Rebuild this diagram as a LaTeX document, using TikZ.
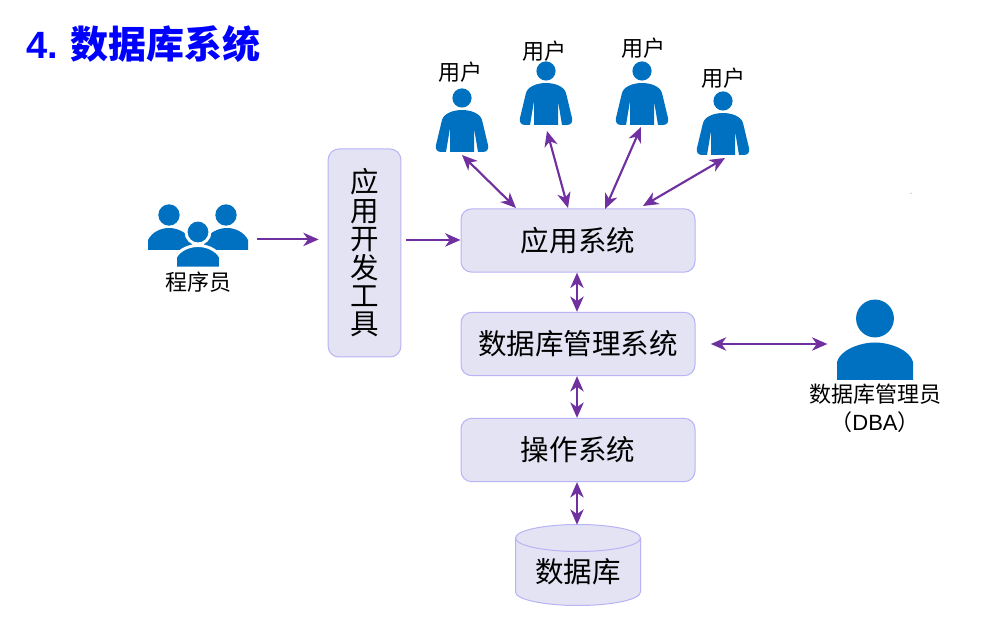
\documentclass[tikz,border=0pt]{standalone}
\usepackage{fontspec}
\setmainfont{Noto Sans CJK SC}
\newfontfamily\latinfont{Liberation Sans}
\usetikzlibrary{arrows.meta}
\definecolor{iconblue}{HTML}{0070C0}
\definecolor{arrowpurple}{HTML}{7030A0}
\definecolor{boxfill}{HTML}{E4E3F3}
\definecolor{boxline}{HTML}{B8B3F5}
\tikzset{
	sysbox/.style={draw=boxline,fill=boxfill,line width=0.75pt,rounded corners=8pt,inner sep=0pt,minimum width=175.5pt,minimum height=47.5pt,font=\fontsize{21.4pt}{24pt}\selectfont},
	iconbox/.style={inner sep=0pt,minimum width=39pt,minimum height=40pt},
	iconlabel/.style={inner sep=0pt,font=\fontsize{16.5pt}{21pt}\selectfont,align=center},
	link/.style={draw=arrowpurple,line width=1.6pt,-{Stealth[length=11.5pt,width=10pt,inset=3.5pt]}},
	twolink/.style={draw=arrowpurple,line width=1.6pt,{Stealth[length=11.5pt,width=10pt,inset=3.5pt]}-{Stealth[length=11.5pt,width=10pt,inset=3.5pt]}}
}
\newcommand{\drawuser}[2]{
	\fill[iconblue] (#1,#2) circle (7.2pt);
	\fill[iconblue] (#1-12,#2+54)--(#1-12,#2+30)--(#1-16,#2+54)--(#1-21,#2+54)
		..controls (#1-25,#2+54) and (#1-27,#2+51) .. (#1-26,#2+47)--(#1-20,#2+22)
		..controls (#1-18,#2+15) and (#1-8,#2+12) .. (#1,#2+12) ..controls (#1+8,#2+12) and (#1+18,#2+15) .. (#1+20,#2+22)
		--(#1+26,#2+47) ..controls (#1+27,#2+51) and (#1+25,#2+54) .. (#1+21,#2+54)
		--(#1+16,#2+54)--(#1+12,#2+30)--(#1+12,#2+54)--cycle;
}
\begin{document}
\begin{tikzpicture}[x=0.75pt,y=-0.75pt]
	\useasboundingbox (0,0) rectangle (1001,641);
	\node[anchor=west,inner sep=0pt,text=blue,font=\fontsize{28.5pt}{32pt}\selectfont\bfseries] (title) at (26,44) {{\latinfont 4.}\hspace{9.5pt}数据库系统};

	% main boxes
	\node[sysbox,minimum width=54.5pt,minimum height=156pt,align=center,font=\fontsize{21.4pt}{21.3pt}\selectfont] (tool) at (364.5,253) {应\\用\\开\\发\\工\\具};
	\node[sysbox] (app) at (578,240.5) {应用系统};
	\node[sysbox] (dbms) at (578,344) {数据库管理系统};
	\node[sysbox] (os) at (578,450) {操作系统};

	% database
	\filldraw[draw=boxline,fill=boxfill,line width=0.75pt] (515.5,538)--(515.5,592) arc[start angle=180,end angle=360,x radius=62.5,y radius=-13.5]--(640.5,538) arc[start angle=0,end angle=180,x radius=62.5,y radius=-13.5]--cycle;
	\draw[boxline,line width=0.75pt] (515.5,538) arc[start angle=180,end angle=360,x radius=62.5,y radius=-13.5];
	\node[inner sep=0pt,minimum width=93.75pt,minimum height=60pt] (db) at (578,565) {};
	\node[inner sep=0pt,font=\fontsize{21.4pt}{24pt}\selectfont] (db label) at (578,572) {数据库};

	% users
	\foreach \name/\ux/\uy/\lx/\ly in {userA/462/98/460/72,userB/546/71/544/51,userC/642/71/643/48,userD/723/101/723/78}{
		\drawuser{\ux}{\uy}
		\node[iconbox] (\name) at (\ux,\uy+22) {};
		\node[iconlabel] (\name label) at (\lx,\ly) {用户};
	}
	\coordinate (userA end) at (462,155);
	\coordinate (userB end) at (547,131);
	\coordinate (userC end) at (641,127);
	\coordinate (userD end) at (725,158);
	\coordinate (appA) at (516,208);
	\coordinate (appB) at (568,208);
	\coordinate (appC) at (605,209);
	\coordinate (appD) at (643,206);
	\draw[twolink] (userA end)--(appA);
	\draw[twolink] (userB end)--(appB);
	\draw[twolink] (userC end)--(appC);
	\draw[twolink] (userD end)--(appD);

	% programmers
	\fill[iconblue] (169,215) circle (8pt);
	\fill[iconblue] (226,215) circle (8pt);
	\fill[iconblue] (148,250)--(148,240) ..controls (152,232) and (161,228) .. (169,228) ..controls (177,228) and (186,232) .. (192,240)--(192,250)--cycle;
	\fill[iconblue] (204,250)--(204,240) ..controls (210,232) and (219,228) .. (227,228) ..controls (235,228) and (244,232) .. (248,240)--(248,250)--cycle;
	\filldraw[iconblue,draw=white,line width=2.2pt] (198,232) circle (9pt);
	\filldraw[iconblue,draw=white,line width=2.2pt] (175.5,268)--(175.5,257) ..controls (180,249) and (190,245.5) .. (198,245.5) ..controls (206,245.5) and (216,249) .. (220.5,257)--(220.5,268)--cycle;
	\fill[white] (170,267.5) rectangle (226,272);
	\node[iconbox,minimum width=75pt,minimum height=46.5pt] (prog) at (198,236) {};
	\node[iconlabel] (prog label) at (198,282) {程序员};

	% administrator
	\fill[iconblue] (875,318.5) circle (14.2pt);
	\fill[iconblue] (837,380)--(837,362) ..controls (840,350) and (860,342.5) .. (875,342.5) ..controls (890,342.5) and (910,350) .. (913,362)--(913,380)--cycle;
	\node[iconbox,minimum width=57pt,minimum height=60pt] (admin) at (875,340) {};
	\node[iconlabel] (admin label) at (875,408) {数据库管理员\\（{\latinfont DBA}）};

	\draw[link] ([xshift=6.75pt,yshift=0.8pt]prog.east |- app.west)--([xshift=-6.75pt,yshift=0.8pt]tool.west |- app.west);
	\draw[link,shorten <=3.75pt] ([yshift=0.4pt]tool.east |- app.west)--([yshift=0.4pt]app.west);
	\draw[twolink] ([xshift=-0.75pt]app.south)--([xshift=-0.75pt]dbms.north);
	\draw[twolink] ([xshift=-0.75pt]dbms.south)--([xshift=-0.75pt]os.north);
	\draw[twolink] ([xshift=-0.75pt]os.south)--([xshift=-0.75pt]db.north);
	\draw[twolink,shorten <=11.5pt,shorten >=7pt] (dbms.east)--(admin.west |- dbms.east);

	\node[inner sep=0pt,font=\fontsize{5pt}{5pt}\selectfont,text=gray] (dashmark) at (911,194) {-};
\end{tikzpicture}
\end{document}
